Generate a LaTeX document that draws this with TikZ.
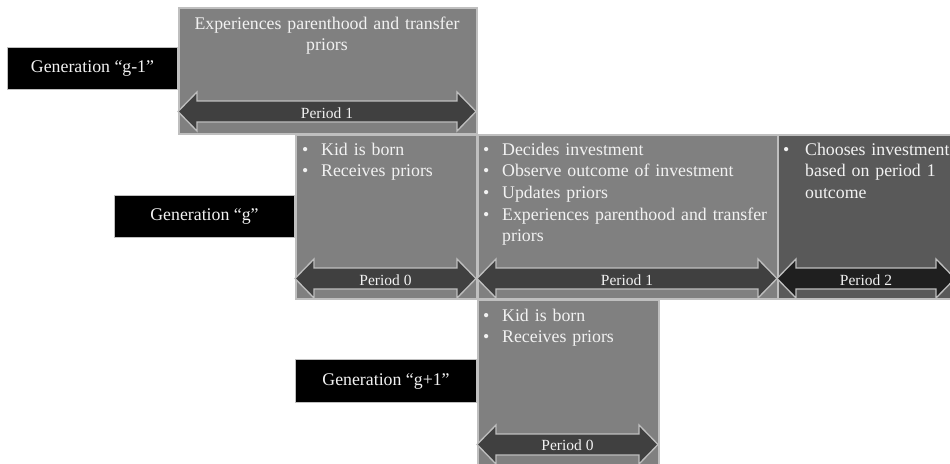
\documentclass[tikz,border=0pt]{standalone}
\usepackage{fontspec}
\setmainfont{Liberation Serif}
\definecolor{boxgray}{HTML}{808080}
\definecolor{boxdark}{HTML}{595959}
\definecolor{arrgray}{HTML}{404040}
\definecolor{arrdark}{HTML}{1F1F1F}
\definecolor{edge}{HTML}{BFBFBF}
\definecolor{txt}{HTML}{F2F2F2}
\newcommand{\bl}{\makebox[19pt][l]{•}}
\newcommand{\bh}{\hspace*{19pt}}
\newcommand{\PArrow}[4]{% x1, x2, center y, fill
  \path[draw=edge, line width=1.3pt, fill=#4, line join=miter]
    (#1,#3) -- (#1+19,#3-19.5) -- (#1+19,#3-10.5) -- (#2-19,#3-10.5) -- (#2-19,#3-19.5)
    -- (#2,#3) -- (#2-19,#3+19.5) -- (#2-19,#3+10.5) -- (#1+19,#3+10.5) -- (#1+19,#3+19.5) -- cycle;}
\tikzset{
  graybox/.style={draw=edge, line width=1.5pt, fill=boxgray, anchor=north west, inner sep=0pt},
  genbox/.style={draw=edge, line width=1pt, fill=black, anchor=north west, inner sep=0pt},
  gentext/.style={text=txt, font=\fontsize{17.8}{21.7}\selectfont, inner sep=0pt},
  bodytext/.style={text=txt, font=\fontsize{17.8}{21.7}\selectfont, inner sep=0pt, anchor=base west, align=left},
  ptext/.style={text=txt, font=\fontsize{15.5}{18}\selectfont, inner sep=0pt, anchor=base}
}
\begin{document}
\begin{tikzpicture}[x=1pt, y=-1pt]
\useasboundingbox (0,0) rectangle (950,463);
\clip (0,0) rectangle (950,463);
% generation labels
\node[genbox, minimum width=170pt, minimum height=42pt] (gm1) at (7,47) {};
\node[genbox, minimum width=180pt, minimum height=42pt] (g0) at (114,195) {};
\node[genbox, minimum width=181pt, minimum height=43pt] (gp1) at (295,359) {};
\node[gentext] (gm1t) at (gm1.center) {Generation “g-1”};
\node[gentext] (g0t) at (g0.center) {Generation “g”};
\node[gentext] (gp1t) at (gp1.center) {Generation “g+1”};
% gray boxes
\node[graybox, minimum width=298pt, minimum height=126pt] (top) at (178,7) {};
\node[graybox, minimum width=181pt, minimum height=164pt] (p0) at (295,134) {};
\node[graybox, minimum width=300pt, minimum height=164pt] (p1) at (477,134) {};
\node[graybox, fill=boxdark, minimum width=180pt, minimum height=164pt] (p2) at (777,134) {};
\node[graybox, minimum width=181pt, minimum height=180pt] (b0) at (477,299) {};
% arrows
\PArrow{178}{476}{111.5}{arrgray}
\PArrow{295}{476}{278.5}{arrgray}
\PArrow{477}{777}{278.5}{arrgray}
\PArrow{777}{955}{278.5}{arrdark}
\PArrow{477}{658}{444.5}{arrgray}
\node[ptext] (l1) at (327,118) {Period 1};
\node[ptext] (l2) at (385.5,285) {Period 0};
\node[ptext] (l3) at (627,285) {Period 1};
\node[ptext] (l4) at (866,285) {Period 2};
\node[ptext] (l5) at (567.5,450.5) {Period 0};
% texts
\node[text=txt, font=\fontsize{17.8}{21}\selectfont, inner sep=0pt, anchor=base, align=center, text width=290pt] (t1) at (327,29)
  {Experiences parenthood and transfer\\priors};
\node[bodytext, text width=170pt] (t2) at (302,155) {\bl Kid is born\\\bl Receives priors};
\node[bodytext, text width=290pt] (t3) at (483,155) {\bl Decides investment\\\bl Observe outcome of investment\\\bl Updates priors\\\bl Experiences parenthood and transfer\\\bh priors};
\node[bodytext, text width=200pt] (t4) at (783,155) {\makebox[22pt][l]{•}Chooses investment\\\hspace*{22pt}based on period 1\\\hspace*{22pt}outcome};
\node[bodytext, text width=170pt] (t5) at (483,321) {\bl Kid is born\\\bl Receives priors};
\end{tikzpicture}
\end{document}
